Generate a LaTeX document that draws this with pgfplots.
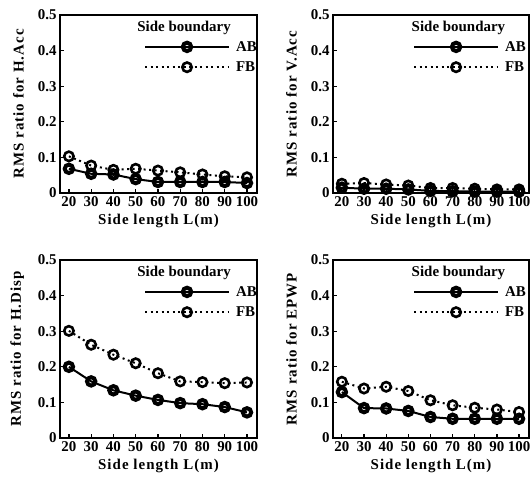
\documentclass[border=0pt]{standalone}
\usepackage{fontspec}
\setmainfont{Liberation Serif}
\newfontfamily\spaced[LetterSpace=7]{Liberation Serif}
\usepackage{pgfplots}
\pgfplotsset{compat=1.18}
\tikzset{sbtitle/.style={font=\fontsize{15}{17}\selectfont\bfseries}}
\begin{document}
\begin{tikzpicture}[x=1bp,y=1bp]
\useasboundingbox (0,0) rectangle (530,-489);
\pgfplotsset{
 panel/.style={
  scale only axis, width=197bp, height=178bp,
  xmin=16, xmax=104.5, ymin=0, ymax=0.5,
  xtick={20,30,40,50,60,70,80,90,100},
  ytick={0,0.1,0.2,0.3,0.4,0.5},
  yticklabels={0,0.1,0.2,0.3,0.4,0.5},
  tick align=inside, xtick pos=left, ytick pos=left,
  major tick length=4bp,
  axis line style={line width=1.4bp},
  every tick/.style={line width=1.2bp, black},
  tick label style={font=\fontsize{15}{17}\selectfont\bfseries},
  /pgf/number format/assume math mode=true,
  xlabel style={font=\spaced\fontsize{15}{18}\selectfont\bfseries, yshift=-1bp},
  ylabel style={font=\spaced\fontsize{15}{18}\selectfont\bfseries, yshift=7bp},
  xlabel={Side length L(m)},
  xticklabel style={inner xsep=0pt},
  legend style={draw=none, fill=none, at={(1.01,0.865)}, anchor=north east,
    font=\fontsize{15}{17}\selectfont\bfseries, row sep=5bp, inner sep=0pt,
    /tikz/every odd column/.append style={column sep=4bp}},
  legend cell align=left,
  legend image code/.code={
    \draw[mark repeat=2,mark phase=2,##1] plot coordinates {(0bp,0bp) (42bp,0bp) (84bp,0bp)};
  },
 },
 rightleg/.style={legend style={at={(0.995,0.865)}}},
 ab/.style={black, line width=2bp, mark=o, mark size=4.2bp,
   mark options={solid, line width=4bp, fill=gray!50}},
 fb/.style={black, line width=2bp, dash pattern=on 2bp off 3.5bp, mark=o, mark size=4.7bp,
   mark options={solid, line width=2.6bp, fill=white}},
}
% Top-left: H.Acc
\begin{axis}[panel, at={(60bp,-15bp)}, anchor=north west, ylabel={RMS ratio for H.Acc}]
\addplot[ab] coordinates {(20,0.068) (30,0.054) (40,0.052) (50,0.039) (60,0.031) (70,0.031) (80,0.031) (90,0.031) (100,0.028)};
\addplot[fb] coordinates {(20,0.103) (30,0.077) (40,0.065) (50,0.068) (60,0.063) (70,0.058) (80,0.052) (90,0.047) (100,0.044)};
\legend{AB,FB}
\node[sbtitle] at (rel axis cs:0.63,0.93) {Side boundary};
\end{axis}
% Top-right: V.Acc
\begin{axis}[panel, rightleg, at={(333bp,-15bp)}, anchor=north west, width=196bp, ylabel={RMS ratio for V.Acc}]
\addplot[ab] coordinates {(20,0.015) (30,0.012) (40,0.012) (50,0.010) (60,0.006) (70,0.005) (80,0.004) (90,0.004) (100,0.004)};
\addplot[fb] coordinates {(20,0.026) (30,0.028) (40,0.024) (50,0.021) (60,0.014) (70,0.014) (80,0.012) (90,0.010) (100,0.010)};
\legend{AB,FB}
\node[sbtitle] at (rel axis cs:0.64,0.93) {Side boundary};
\end{axis}
% Bottom-left: H.Disp
\begin{axis}[panel, at={(60bp,-260bp)}, anchor=north west, ylabel={RMS ratio for H.Disp}]
\addplot[ab] coordinates {(20,0.200) (30,0.159) (40,0.134) (50,0.119) (60,0.107) (70,0.098) (80,0.095) (90,0.087) (100,0.072)};
\addplot[fb] coordinates {(20,0.301) (30,0.262) (40,0.234) (50,0.210) (60,0.182) (70,0.159) (80,0.157) (90,0.154) (100,0.156)};
\legend{AB,FB}
\node[sbtitle] at (rel axis cs:0.63,0.93) {Side boundary};
\end{axis}
% Bottom-right: EPWP
\begin{axis}[panel, rightleg, at={(333bp,-260bp)}, anchor=north west, width=196bp, ylabel={RMS ratio for EPWP}]
\addplot[ab] coordinates {(20,0.129) (30,0.084) (40,0.083) (50,0.076) (60,0.059) (70,0.054) (80,0.054) (90,0.054) (100,0.054)};
\addplot[fb] coordinates {(20,0.158) (30,0.139) (40,0.144) (50,0.132) (60,0.106) (70,0.092) (80,0.085) (90,0.080) (100,0.073)};
\legend{AB,FB}
\node[sbtitle] at (rel axis cs:0.64,0.93) {Side boundary};
\end{axis}
\end{tikzpicture}
\end{document}
